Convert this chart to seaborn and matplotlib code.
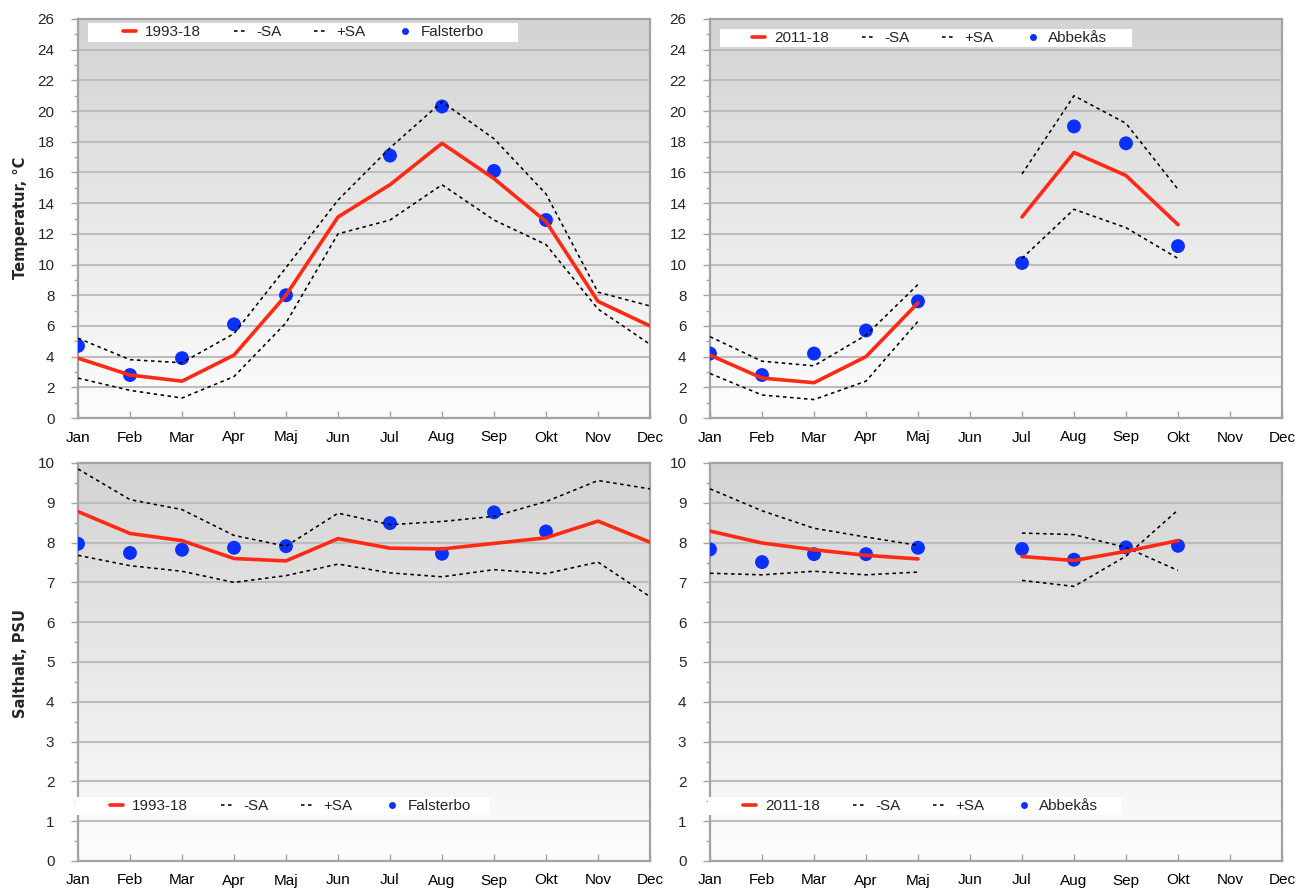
import numpy as np
import pandas as pd
import matplotlib
matplotlib.use("Agg")
import matplotlib.pyplot as plt
from matplotlib.lines import Line2D
from matplotlib.patches import Rectangle
from matplotlib.ticker import MultipleLocator, NullLocator
from matplotlib.colors import LinearSegmentedColormap
import seaborn as sns

nan = np.nan
months = ["Jan", "Feb", "Mar", "Apr", "Maj", "Jun", "Jul", "Aug", "Sep", "Okt", "Nov", "Dec"]

# Temperatur (°C) – Falsterbo, medel 1993-18 ± standardavvikelse
fal_temp_mean = [3.9, 2.8, 2.4, 4.1, 8.0, 13.1, 15.2, 17.9, 15.6, 12.8, 7.6, 6.0]
fal_temp_plus = [5.2, 3.8, 3.6, 5.5, 9.8, 14.2, 17.6, 20.6, 18.2, 14.6, 8.2, 7.3]
fal_temp_minus = [2.6, 1.8, 1.3, 2.7, 6.2, 12.0, 12.9, 15.2, 12.9, 11.3, 7.1, 4.8]
fal_temp_obs = [4.7, 2.8, 3.9, 6.1, 8.0, nan, 17.1, 20.3, 16.1, 12.9, nan, nan]

# Temperatur (°C) – Abbekås, medel 2011-18 ± standardavvikelse
abb_temp_mean = [4.1, 2.6, 2.3, 4.0, 7.5, nan, 13.1, 17.3, 15.8, 12.6, nan, nan]
abb_temp_plus = [5.3, 3.7, 3.4, 5.4, 8.7, nan, 15.9, 21.0, 19.2, 14.9, nan, nan]
abb_temp_minus = [2.9, 1.5, 1.2, 2.4, 6.3, nan, 10.4, 13.6, 12.4, 10.4, nan, nan]
abb_temp_obs = [4.2, 2.8, 4.2, 5.7, 7.6, nan, 10.1, 19.0, 17.9, 11.2, nan, nan]

# Salthalt (PSU) – Falsterbo
fal_salt_mean = [8.78, 8.23, 8.05, 7.60, 7.54, 8.10, 7.86, 7.84, 7.98, 8.12, 8.54, 8.01]
fal_salt_plus = [9.85, 9.08, 8.83, 8.18, 7.91, 8.74, 8.45, 8.53, 8.66, 9.03, 9.56, 9.35]
fal_salt_minus = [7.68, 7.42, 7.28, 7.00, 7.17, 7.46, 7.24, 7.14, 7.32, 7.22, 7.51, 6.64]
fal_salt_obs = [7.97, 7.74, 7.82, 7.87, 7.91, nan, 8.49, 7.72, 8.76, 8.28, nan, nan]

# Salthalt (PSU) – Abbekås
abb_salt_mean = [8.29, 7.99, 7.82, 7.68, 7.59, nan, 7.65, 7.55, 7.78, 8.05, nan, nan]
abb_salt_plus = [9.35, 8.80, 8.36, 8.14, 7.93, nan, 8.24, 8.20, 7.88, 7.30, nan, nan]
abb_salt_minus = [7.23, 7.19, 7.28, 7.19, 7.26, nan, 7.05, 6.90, 7.66, 8.82, nan, nan]
abb_salt_obs = [7.83, 7.51, 7.71, 7.71, 7.87, nan, 7.84, 7.57, 7.88, 7.92, nan, nan]

RED = "#ff2a14"
BLUE = "#0a30ff"
GRID = "#bdbdbd"
FRAME = "#a3a3a3"
W, H = 1295, 889

sns.set_style("white")
plt.rcParams["font.family"] = ["Liberation Sans", "DejaVu Sans"]

bg_cmap = LinearSegmentedColormap.from_list("bg", ["#fdfdfd", "#d3d3d3"])
xs = np.arange(12)


def segments(values):
    v = np.asarray(values, dtype=float)
    valid = ~np.isnan(v)
    seg = np.cumsum(~valid)
    return pd.DataFrame({"m": xs, "v": v, "seg": seg})[valid]


def fig_x(px):
    return px / W


def fig_y(py):
    return 1 - py / H


def panel(fig, rect_px, mean, minus, plus, obs, ymax, major, minor,
          period, station, box_px, handle_px):
    left, top, right, bottom = rect_px
    ax = fig.add_axes([fig_x(left), fig_y(bottom),
                       (right - left) / W, (bottom - top) / H])

    grad = np.linspace(0, 1, 256).reshape(-1, 1)
    ax.imshow(grad, extent=[0, 11, 0, ymax], aspect="auto", cmap=bg_cmap,
              origin="lower", zorder=0, interpolation="bilinear")

    dash = (0, (2.2, 2.2))
    for series in (minus, plus):
        sns.lineplot(data=segments(series), x="m", y="v", units="seg",
                     estimator=None, sort=False, color="black", lw=1.15,
                     linestyle=dash, ax=ax, legend=False, zorder=3)
    sns.scatterplot(x=xs, y=obs, s=100, color=BLUE, edgecolor="none",
                    ax=ax, legend=False, zorder=2.8)
    sns.lineplot(data=segments(mean), x="m", y="v", units="seg",
                 estimator=None, sort=False, color=RED, lw=2.6,
                 ax=ax, legend=False, zorder=4)

    ax.set_xlim(0, 11)
    ax.set_ylim(0, ymax)
    ax.set_xlabel("")
    ax.set_ylabel("")
    ax.set_xticks(xs)
    ax.set_xticklabels(months)
    ax.xaxis.set_minor_locator(NullLocator())
    ax.yaxis.set_major_locator(MultipleLocator(major))
    ax.yaxis.set_minor_locator(MultipleLocator(minor))
    ax.grid(axis="y", which="major", color=GRID, lw=1.5)
    ax.grid(axis="x", visible=False)
    ax.set_axisbelow(True)
    for gl in ax.get_ygridlines():
        gl.set_zorder(1)

    for s in ax.spines.values():
        s.set_color(FRAME)
        s.set_linewidth(1.6)
        s.set_visible(True)

    ax.tick_params(axis="x", which="major", direction="in", length=5,
                   width=1, color=FRAME, pad=9, labelsize=11,
                   bottom=True, labelcolor="black")
    ax.tick_params(axis="y", which="major", direction="out", length=5,
                   width=1, color=FRAME, pad=12, labelsize=11, left=True)
    ax.tick_params(axis="y", which="minor", direction="out", length=3,
                   width=1, color=FRAME, left=True)

    bx0, by0, bx1, by1 = box_px
    ax.add_patch(Rectangle((fig_x(bx0), fig_y(by1)), (bx1 - bx0) / W,
                           (by1 - by0) / H, transform=fig.transFigure,
                           facecolor="white", edgecolor="none",
                           zorder=6, clip_on=False))

    handles = [
        Line2D([], [], color=RED, lw=2.6),
        Line2D([], [], color="black", lw=1.15, linestyle=dash),
        Line2D([], [], color="black", lw=1.15, linestyle=dash),
        Line2D([], [], linestyle="none", marker="o", markersize=5,
               color=BLUE, markeredgecolor="none"),
    ]
    leg = ax.legend(handles, [period, "-SA", "+SA", station], ncol=4,
                    loc="center left",
                    bbox_to_anchor=(fig_x(handle_px), fig_y((by0 + by1) / 2)),
                    bbox_transform=fig.transFigure, frameon=False,
                    borderpad=0, borderaxespad=0, handlelength=0.85,
                    handletextpad=0.6, columnspacing=2.15, fontsize=11)
    leg.set_zorder(7)
    return ax


fig = plt.figure(figsize=(W / 100, H / 100), dpi=100)

panel(fig, (78, 19, 650, 418), fal_temp_mean, fal_temp_minus, fal_temp_plus,
      fal_temp_obs, 26, 2, 1, "1993-18", "Falsterbo", (88, 23, 518, 42), 123)
panel(fig, (710, 19, 1282, 418), abb_temp_mean, abb_temp_minus, abb_temp_plus,
      abb_temp_obs, 26, 2, 1, "2011-18", "Abbekås", (720, 29, 1132, 47), 752)
panel(fig, (78, 463, 650, 861), fal_salt_mean, fal_salt_minus, fal_salt_plus,
      fal_salt_obs, 10, 1, 0.5, "1993-18", "Falsterbo", (75, 797, 490, 815), 110)
panel(fig, (710, 463, 1282, 861), abb_salt_mean, abb_salt_minus, abb_salt_plus,
      abb_salt_obs, 10, 1, 0.5, "2011-18", "Abbekås", (708, 797, 1122, 815), 743)

fig.text(fig_x(21), fig_y(218), "Temperatur, °C", rotation=90, ha="center",
         va="center", fontsize=10.5, fontweight="bold", family="DejaVu Sans")
fig.text(fig_x(21), fig_y(663), "Salthalt, PSU", rotation=90, ha="center",
         va="center", fontsize=10.5, fontweight="bold", family="DejaVu Sans")

fig.savefig("out.png", dpi=100)
